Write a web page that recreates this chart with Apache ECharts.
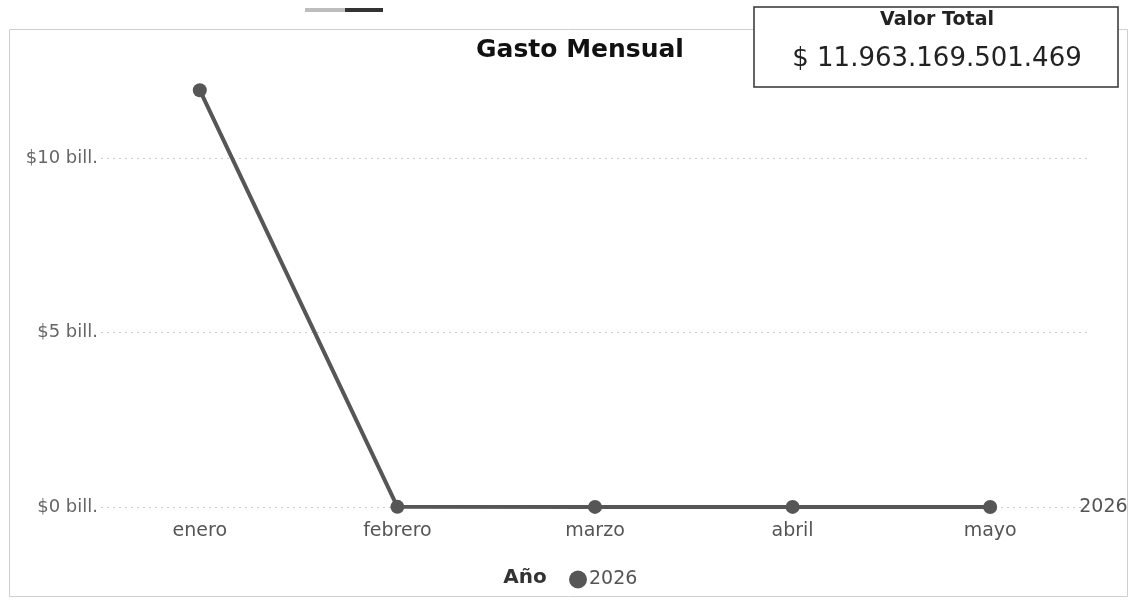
<!DOCTYPE html>
<html>
<head>
<meta charset="utf-8">
<script src="https://cdn.jsdelivr.net/npm/echarts@6/dist/echarts.min.js"></script>
<style>
html,body{margin:0;padding:0;background:#fff;}
#c{width:1130px;height:603px;}
</style>
</head>
<body>
<div id="c"></div>
<script>
const categories = ['enero', 'febrero', 'marzo', 'abril', 'mayo'];
const seriesName = '2026';
const values = [11.95e12, 0.005e12, 0.003e12, 0.003e12, 0.002e12];
const yTicks = [0, 5e12, 10e12];
const totalLabel = '$ 11.963.169.501.469';

const chart = echarts.init(document.getElementById('c'));
const lineColor = '#565656';
const F = 'DejaVu Sans';
chart.setOption({
  animation: false,
  backgroundColor: '#fff',
  title: {
    text: 'Gasto Mensual',
    left: 575, top: 33, textAlign: 'center',
    textStyle: {fontFamily: F, fontWeight: 'bold', fontSize: 25, color: '#111'}
  },
  graphic: [
    {type: 'rect', shape: {x: 9.5, y: 29.5, width: 1118, height: 567}, style: {fill: 'none', stroke: '#cfcfcf', lineWidth: 1}, z: -1},
    {type: 'rect', shape: {x: 305, y: 8, width: 40, height: 4}, style: {fill: '#bdbdbd'}},
    {type: 'rect', shape: {x: 345, y: 8, width: 38, height: 4}, style: {fill: '#333'}},
    {type: 'rect', shape: {x: 754, y: 7, width: 364, height: 80}, style: {fill: '#fff', stroke: '#333', lineWidth: 1.5}, z: 10},
    {type: 'text', x: 937, y: 20, style: {text: 'Valor Total', fontFamily: F, fontWeight: 'bold', fontSize: 19, fill: '#222', align: 'center', verticalAlign: 'middle'}, z: 11},
    {type: 'text', x: 937, y: 59, style: {text: totalLabel, fontFamily: F, fontSize: 26, fill: '#222', align: 'center', verticalAlign: 'middle'}, z: 11},
    {type: 'text', x: 525, y: 578, style: {text: 'Año', fontFamily: F, fontWeight: 'bold', fontSize: 20, fill: '#333', align: 'center', verticalAlign: 'middle'}}
  ],
  legend: {
    data: [seriesName],
    left: 564, top: 565, icon: 'circle', itemWidth: 18, itemHeight: 18, itemGap: 4,
    textStyle: {fontFamily: F, fontSize: 19, color: '#555', padding: [0,0,0,-3]}
  },
  grid: {left: 101, right: 41, top: 71, bottom: 96},
  xAxis: {
    type: 'category', data: categories, boundaryGap: true,
    axisLine: {show: false}, axisTick: {show: false},
    axisLabel: {fontFamily: F, fontSize: 19, color: '#555', margin: 15}
  },
  yAxis: {
    type: 'value', min: 0, max: 12.5e12, interval: 5e12,
    axisLine: {show: false}, axisTick: {show: false},
    axisLabel: {
      showMaxLabel: false, fontFamily: F, fontSize: 18, color: '#666', margin: 3,
      formatter: v => yTicks.includes(v) ? '$' + (v / 1e12) + ' bill.' : ''
    },
    splitLine: {showMaxLine: false, lineStyle: {color: '#cccccc', type: [2, 4], width: 1}}
  },
  series: [{
    name: seriesName, type: 'line', data: values,
    symbol: 'circle', symbolSize: 14,
    lineStyle: {color: lineColor, width: 4},
    itemStyle: {color: lineColor},
    endLabel: {show: true, formatter: seriesName, distance: 89, fontFamily: F, fontSize: 19, color: '#555'}
  }]
});
</script>
</body>
</html>
